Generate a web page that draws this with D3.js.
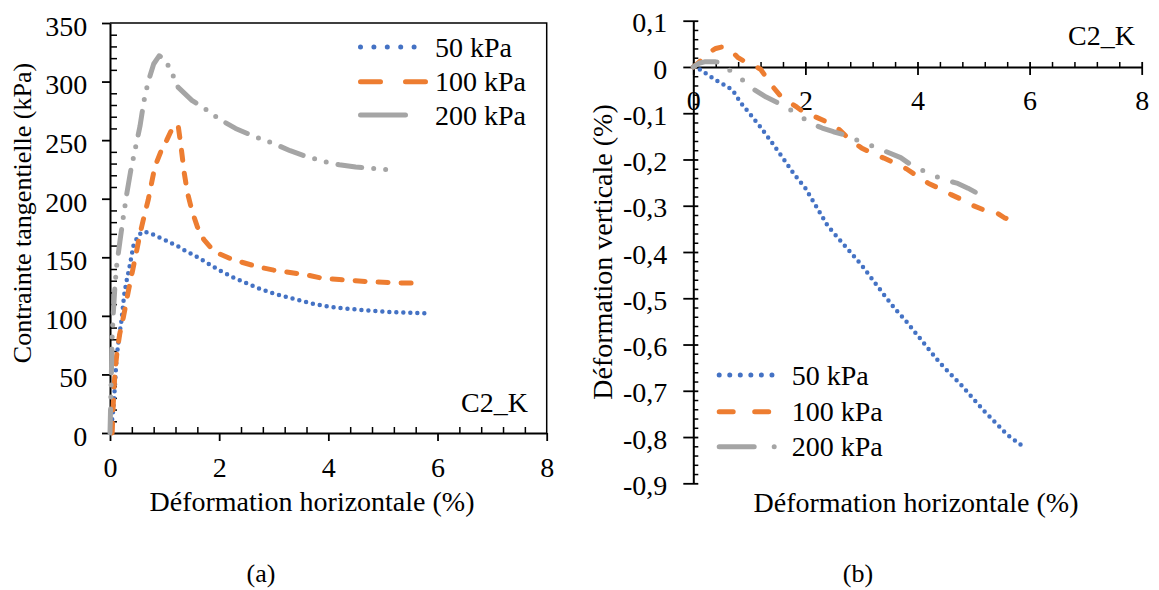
<!DOCTYPE html>
<html>
<head>
<meta charset="utf-8">
<script src="https://cdn.jsdelivr.net/npm/d3@7"></script>
<style>
  html, body { margin: 0; padding: 0; background: #fff; }
  svg { display: block; }
  text { font-family: "Liberation Serif", "Times New Roman", serif; fill: #000; }
</style>
</head>
<body>
<svg id="chart" width="1159" height="590"></svg>
<script>
// ---------- DATA ----------
const seriesNames = ["50 kPa", "100 kPa", "200 kPa"];
const seriesColors = ["#4472C4", "#ED7D31", "#A5A5A5"];

// (a) shear stress vs horizontal strain
const a50x  = [0,0.03,0.06,0.09,0.12,0.16,0.21,0.26,0.3,0.35,0.43,0.52,0.62,0.76,0.9,1.0,1.1,1.22,1.4,1.53,1.75,2.0,2.25,2.5,2.75,3.0,3.25,3.5,3.75,4.0,4.25,4.5,4.75,5.0,5.25,5.5,5.7,5.88];
const a50y  = [0,8,20,40,64,80,96,118,129,140,160,169,172,170,167,165,162.5,160,155,152,146,139,133,128,123,119,116,113,110,108,106.5,105.5,104.5,103.6,103,102.7,102.4,102];
const a100x = [0.04,0.06,0.09,0.13,0.18,0.25,0.34,0.42,0.49,0.55,0.61,0.7,0.82,0.93,1.04,1.12,1.18,1.25,1.3,1.36,1.42,1.5,1.6,1.72,1.85,2.0,2.2,2.4,2.7,3.0,3.3,3.6,3.9,4.2,4.5,4.8,5.1,5.4,5.75];
const a100y = [0,25,51,70,85,100,122,140,156,170,182,199,227,240,250,258,263,262,245,222,205,190,176,165,158,153,149,146,142,139,137,135,132,131,130,129,128.5,128,128];
const a200x = [0,0.01,0.02,0.03,0.04,0.06,0.09,0.12,0.18,0.24,0.31,0.38,0.46,0.55,0.62,0.7,0.8,0.9,0.98,1.05,1.1,1.25,1.5,1.8,2.0,2.3,2.6,3.0,3.3,3.6,3.9,4.2,4.5,4.8,5.0,5.18];
const a200y = [0,20,40,60,83,102,125,142,163,183,205,224,242,262,283,300,315,322,320,315,311,295,284,275,268,260,254,247,241,236,232,229,227,226,225,224.5];

// (b) vertical strain vs horizontal strain
const b50x  = [0,0.1,0.25,0.4,0.57,0.7,0.85,1.0,1.2,1.4,1.6,1.8,2.0,2.2,2.4,2.6,2.8,3.0,3.2,3.4,3.6,3.8,4.0,4.2,4.4,4.6,4.8,5.0,5.2,5.4,5.6,5.9];
const b50y  = [0,-0.004,-0.016,-0.028,-0.04,-0.05,-0.078,-0.1,-0.13,-0.163,-0.197,-0.232,-0.262,-0.303,-0.344,-0.372,-0.4,-0.428,-0.46,-0.492,-0.523,-0.55,-0.58,-0.61,-0.64,-0.665,-0.69,-0.718,-0.745,-0.77,-0.795,-0.822];
const b100x = [0,0.1,0.2,0.3,0.4,0.5,0.6,0.7,0.8,0.9,1.0,1.1,1.2,1.3,1.4,1.55,1.7,1.85,2.0,2.2,2.4,2.6,2.8,3.0,3.2,3.4,3.6,3.8,4.0,4.2,4.4,4.6,4.8,5.0,5.2,5.4,5.55,5.7];
const b100y = [0,0.01,0.022,0.033,0.04,0.043,0.042,0.032,0.02,0.013,0.007,0.002,-0.005,-0.022,-0.04,-0.062,-0.075,-0.087,-0.1,-0.109,-0.12,-0.135,-0.158,-0.175,-0.187,-0.197,-0.208,-0.22,-0.236,-0.252,-0.263,-0.276,-0.287,-0.3,-0.31,-0.314,-0.326,-0.332];
const b200x = [0,0.1,0.2,0.3,0.4,0.5,0.7,0.9,1.1,1.3,1.5,1.7,1.9,2.1,2.3,2.5,2.7,2.9,3.1,3.3,3.5,3.7,3.9,4.1,4.3,4.5,4.7,4.9,5.05,5.17];
const b200y = [0,0.008,0.011,0.011,0.011,0.01,-0.013,-0.03,-0.05,-0.065,-0.077,-0.09,-0.106,-0.122,-0.132,-0.14,-0.147,-0.157,-0.166,-0.176,-0.186,-0.196,-0.213,-0.224,-0.235,-0.245,-0.251,-0.262,-0.272,-0.28];

// ticks & labels
const xMajorTicks = [0,2,4,6,8];
const aYMajorTicks = [0,50,100,150,200,250,300,350];
const bYMajorTicks = [0.1,0,-0.1,-0.2,-0.3,-0.4,-0.5,-0.6,-0.7,-0.8,-0.9];
const aTitleX = "Déformation horizontale (%)";
const aTitleY = "Contrainte tangentielle (kPa)";
const bTitleX = "Déformation horizontale (%)";
const bTitleY = "Déformation verticale (%)";
const sampleLabel = "C2_K";
const panelLabels = ["(a)", "(b)"];

// ---------- DRAW ----------
const svg = d3.select("#chart");
const FS = 28;
const frLocale = d3.formatLocale({decimal: ",", thousands: " ", grouping: [3], currency: ["", ""], minus: "-"});
const fmtB = frLocale.format("~g");

function range(a, b, step) { const r = []; for (let v = a; v <= b + 1e-9; v += step) r.push(+v.toFixed(6)); return r; }

// ===== Panel (a) =====
const ax = d3.scaleLinear().domain([0, 8]).range([110, 546.7]);
const ay = d3.scaleLinear().domain([0, 350]).range([433, 23]);
const ga = svg.append("g");

// frame (top and right)
ga.append("path")
  .attr("d", `M${ax(0)},${ay(350)}H${ax(8)}V${ay(0)}`)
  .attr("fill", "none").attr("stroke", "#000").attr("stroke-width", 1.5);

// minor ticks (inside)
const aXMinor = range(0, 8, 0.4).filter(v => !xMajorTicks.some(m => Math.abs(m - v) < 1e-6));
const aYMinor = range(0, 350, 10).filter(v => v % 50 !== 0);
ga.append("g").attr("transform", `translate(0,${ay(0)})`)
  .call(d3.axisBottom(ax).tickValues(aXMinor).tickSize(-6).tickSizeOuter(0).tickFormat(""))
  .call(g => g.select(".domain").remove())
  .selectAll("line").attr("stroke-width", 1.5);
ga.append("g").attr("transform", `translate(${ax(0)},0)`)
  .call(d3.axisLeft(ay).tickValues(aYMinor).tickSize(-7).tickSizeOuter(0).tickFormat(""))
  .call(g => g.select(".domain").remove())
  .selectAll("line").attr("stroke-width", 1.5);

// major axes
const axB = ga.append("g").attr("transform", `translate(0,${ay(0)})`)
  .call(d3.axisBottom(ax).tickValues(xMajorTicks).tickSize(8).tickSizeOuter(0).tickPadding(16).tickFormat(d3.format("d")));
const axL = ga.append("g").attr("transform", `translate(${ax(0)},0)`)
  .call(d3.axisLeft(ay).tickValues(aYMajorTicks).tickSize(8).tickSizeOuter(0).tickPadding(14.7).tickFormat(d3.format("d")));
[axB, axL].forEach(g => {
  g.select(".domain").attr("stroke-width", 2);
  g.selectAll(".tick line").attr("stroke-width", 1.8);
  g.selectAll("text").attr("font-family", "Liberation Serif").attr("font-size", FS).attr("fill", "#000");
});
axL.selectAll("text").attr("dy", "0.44em");

// series
const aSeries = [
  {x: a50x, y: a50y}, {x: a100x, y: a100y}, {x: a200x, y: a200y}
];
const aDash = ["0,7", "10,13", "24,12,0,12,0,12"];
const aWidth = [4.5, 5, 5];
aSeries.forEach((s, i) => {
  const pts = s.x.map((v, k) => [v, s.y[k]]);
  ga.append("path")
    .attr("d", d3.line().x(d => ax(d[0])).y(d => ay(d[1]))(pts))
    .attr("fill", "none").attr("stroke", seriesColors[i])
    .attr("stroke-width", aWidth[i]).attr("stroke-linecap", "round").attr("stroke-linejoin", "round")
    .attr("stroke-dasharray", aDash[i]);
});

// legend (a)
const aLegY = [47, 81.7, 115];
const aLegDash = ["0,13.4", "20,25", "45,100"];
seriesNames.forEach((n, i) => {
  ga.append("line").attr("x1", 360.5).attr("x2", i === 0 ? 427 : 425.5)
    .attr("y1", aLegY[i]).attr("y2", aLegY[i])
    .attr("stroke", seriesColors[i]).attr("stroke-width", 5).attr("stroke-linecap", "round")
    .attr("stroke-dasharray", aLegDash[i]);
  ga.append("text").attr("x", 435).attr("y", aLegY[i] + 9.5).attr("font-size", FS).text(n);
});
ga.append("text").attr("x", 528).attr("y", 412).attr("text-anchor", "end").attr("font-size", FS).text(sampleLabel);

// titles (a)
ga.append("text").attr("x", 312).attr("y", 511).attr("text-anchor", "middle").attr("font-size", FS).text(aTitleX);
ga.append("text").attr("transform", "translate(31,213) rotate(-90)").attr("text-anchor", "middle").attr("font-size", 26).text(aTitleY);
ga.append("text").attr("x", 261).attr("y", 582).attr("text-anchor", "middle").attr("font-size", 26).text(panelLabels[0]);

// ===== Panel (b) =====
const bx = d3.scaleLinear().domain([0, 8]).range([693.3, 1141.7]);
const by = d3.scaleLinear().domain([-0.9, 0.1]).range([483.3, 20.7]);
const gb = svg.append("g");

const bXMinor = range(0, 8, 0.4).filter(v => !xMajorTicks.some(m => Math.abs(m - v) < 1e-6));
const bYMinor = range(-0.9, 0.1, 0.02).filter(v => Math.abs(v * 10 - Math.round(v * 10)) > 1e-6);
gb.append("g").attr("transform", `translate(0,${by(0)})`)
  .call(d3.axisBottom(bx).tickValues(bXMinor).tickSize(-5).tickSizeOuter(0).tickFormat(""))
  .call(g => g.select(".domain").remove())
  .selectAll("line").attr("stroke-width", 1.5);
gb.append("g").attr("transform", `translate(${bx(0)},0)`)
  .call(d3.axisLeft(by).tickValues(bYMinor).tickSize(-5).tickSizeOuter(0).tickFormat(""))
  .call(g => g.select(".domain").remove())
  .selectAll("line").attr("stroke-width", 1.5);

const bxB = gb.append("g").attr("transform", `translate(0,${by(0)})`)
  .call(d3.axisBottom(bx).tickValues(xMajorTicks).tickSize(8).tickSizeOuter(0).tickPadding(15.4).tickFormat(d3.format("d")));
bxB.selectAll(".tick line").attr("y1", -5);
const byL = gb.append("g").attr("transform", `translate(${bx(0)},0)`)
  .call(d3.axisLeft(by).tickValues(bYMajorTicks).tickSize(10).tickSizeOuter(0).tickPadding(16).tickFormat(fmtB));
byL.selectAll(".tick line").attr("x1", 5);
[bxB, byL].forEach(g => {
  g.select(".domain").attr("stroke-width", 2);
  g.selectAll(".tick line").attr("stroke-width", 1.8);
  g.selectAll("text").attr("font-family", "Liberation Serif").attr("font-size", FS).attr("fill", "#000");
});
byL.selectAll("text").attr("dy", "0.4em");

const bSeries = [
  {x: b50x, y: b50y}, {x: b100x, y: b100y}, {x: b200x, y: b200y}
];
const bDash = ["0,7", "9,17", "25,16,0,16,0,16"];
bSeries.forEach((s, i) => {
  const pts = s.x.map((v, k) => [v, s.y[k]]);
  gb.append("path")
    .attr("d", d3.line().x(d => bx(d[0])).y(d => by(d[1]))(pts))
    .attr("fill", "none").attr("stroke", seriesColors[i])
    .attr("stroke-width", aWidth[i]).attr("stroke-linecap", "round").attr("stroke-linejoin", "round")
    .attr("stroke-dasharray", bDash[i]);
});

// legend (b)
const bLegY = [375, 411.7, 446.7];
const bLegDash = ["0,10.55", "14,21.5", "35,20,0,100"];
seriesNames.forEach((n, i) => {
  gb.append("line").attr("x1", 719.2).attr("x2", 778)
    .attr("y1", bLegY[i]).attr("y2", bLegY[i])
    .attr("stroke", seriesColors[i]).attr("stroke-width", 5).attr("stroke-linecap", "round")
    .attr("stroke-dasharray", bLegDash[i]);
  gb.append("text").attr("x", 791.7).attr("y", bLegY[i] + 9.5).attr("font-size", FS).text(n);
});
gb.append("text").attr("x", 1135).attr("y", 45).attr("text-anchor", "end").attr("font-size", FS).text(sampleLabel);

gb.append("text").attr("x", 916).attr("y", 511.7).attr("text-anchor", "middle").attr("font-size", FS).text(bTitleX);
gb.append("text").attr("transform", "translate(612,252) rotate(-90)").attr("text-anchor", "middle").attr("font-size", FS).text(bTitleY);
gb.append("text").attr("x", 858).attr("y", 582).attr("text-anchor", "middle").attr("font-size", 26).text(panelLabels[1]);
</script>
</body>
</html>
